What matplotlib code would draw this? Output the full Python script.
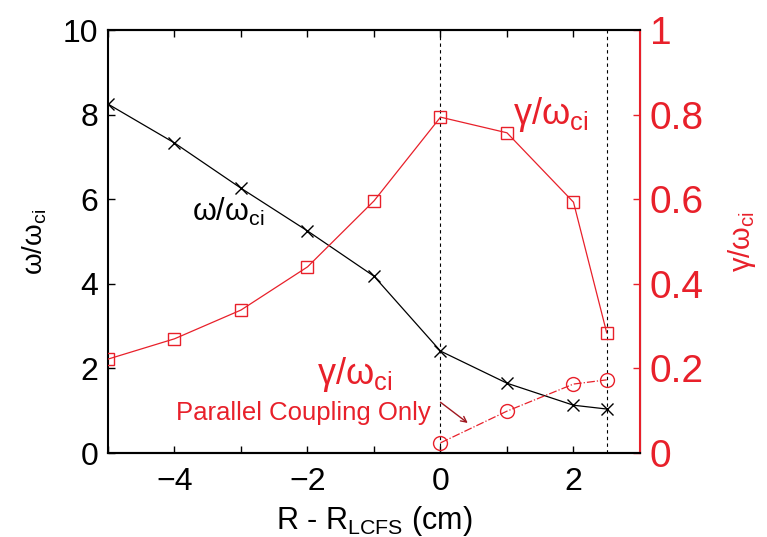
import matplotlib.pyplot as plt
import numpy as np

plt.rcParams['font.family'] = ['Liberation Sans', 'DejaVu Sans']
plt.rcParams['mathtext.default'] = 'regular'

red = '#e8202a'

# positions R - R_LCFS (cm)
r = [-5, -4, -3, -2, -1, 0, 1, 2, 2.5]
omega = [8.25, 7.33, 6.26, 5.25, 4.18, 2.41, 1.65, 1.13, 1.04]
gamma = [0.222, 0.27, 0.338, 0.44, 0.596, 0.794, 0.757, 0.593, 0.284]

r_par = [0, 1, 2, 2.5]
gamma_par = [0.024, 0.099, 0.163, 0.173]

fig = plt.figure(figsize=(7.67, 5.37), dpi=100)
ax = fig.add_axes([0.1408, 0.1564, 0.6936, 0.7877])
ax2 = ax.twinx()

ax.plot(r, omega, color='k', lw=0.9, marker='x', ms=8, mew=1.0)
ax.axvline(0, color='k', ls='--', lw=0.8, dashes=(3, 3))
ax.axvline(2.5, color='k', ls='--', lw=0.8, dashes=(3, 3))

ax2.plot(r, gamma, color=red, lw=0.9, marker='s', ms=8, mfc='none', mew=1.0)
ax2.plot(r_par, gamma_par, color=red, lw=0.9, ls='-.', marker='o', ms=10, mfc='none', mew=1.0)

ax.set_xlim(-5, 3)
ax.set_ylim(0, 10)
ax2.set_ylim(0, 1)
ax.set_xticks([-4, -2, 0, 2])
ax.set_xticklabels(['\u22124', '\u22122', '0', '2'])
ax.set_xticks(np.arange(-5, 3), minor=True)
ax.set_yticks([0, 2, 4, 6, 8, 10])
ax2.set_yticks([0, 0.2, 0.4, 0.6, 0.8, 1])
ax2.set_yticklabels(['0', '0.2', '0.4', '0.6', '0.8', '1'])

ax.tick_params(axis='both', which='both', direction='in', top=True, length=5, width=1)
ax.tick_params(axis='x', labelsize=23, pad=10)
ax.tick_params(axis='y', labelsize=23, pad=7)
ax.tick_params(axis='x', which='minor', length=5)
ax2.tick_params(axis='y', direction='in', length=5, width=1, colors=red, labelsize=28, pad=7)

for s in ['left', 'bottom', 'top']:
    ax.spines[s].set_linewidth(1.5)
ax2.spines['right'].set_color(red)
ax2.spines['right'].set_linewidth(1.5)
ax2.spines['left'].set_visible(False)
ax2.spines['top'].set_linewidth(1.5)
ax2.spines['bottom'].set_linewidth(1.5)

ax.set_xlabel('R - R$_{LCFS}$ (cm)', fontsize=22, labelpad=5)
ax.set_ylabel('\u03c9/\u03c9$_{ci}$', fontsize=20, labelpad=10)
ax2.set_ylabel('\u03b3/\u03c9$_{ci}$', fontsize=21, color=red, labelpad=16)

ax.text(-3.74, 5.7, '\u03c9/\u03c9$_{ci}$', fontsize=22, color='k', ha='left', va='center')
ax.text(1.09, 8.0, '\u03b3/\u03c9$_{ci}$', fontsize=26, color=red, ha='left', va='center')
ax.text(-1.86, 1.85, '\u03b3/\u03c9$_{ci}$', fontsize=26, color=red, ha='left', va='center')
ax.text(-3.98, 0.95, 'Parallel Coupling Only', fontsize=18.5, color=red, ha='left', va='center')
ax.annotate('', xy=(0.41, 0.71), xytext=(0.0, 1.2),
            arrowprops=dict(arrowstyle='->', color='#a01820', lw=1.0,
                            shrinkA=0, shrinkB=0))

fig.savefig('out.png', dpi=100)
